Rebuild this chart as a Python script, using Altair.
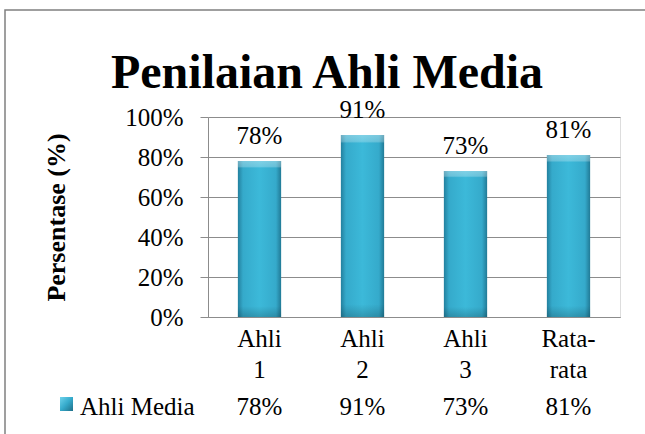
import altair as alt
import pandas as pd

categories = ["Ahli 1", "Ahli 2", "Ahli 3", "Rata-rata"]
values = [0.78, 0.91, 0.73, 0.81]
series_name = "Ahli Media"
title_text = "Penilaian Ahli Media"
y_title = "Persentase (%)"
y_ticks = [0, 0.2, 0.4, 0.6, 0.8, 1.0]

df = pd.DataFrame({"cat": categories, "val": values})

FONT = "Liberation Serif"
GRID = "#8c8c8c"

xscale = alt.Scale(domain=categories, paddingInner=0.58, paddingOuter=0.29)
yscale = alt.Scale(domain=[0, 1], nice=False)

x_axis = alt.Axis(
    title=None,
    labelAngle=0,
    ticks=False,
    grid=False,
    domain=True,
    domainColor=GRID,
    labelFontSize=25,
    labelFont=FONT,
    labelColor="black",
    labelBaseline="alphabetic",
    labelPadding=29,
    labelLineHeight=31,
    labelOverlap=False,
    labelExpr="datum.label == 'Rata-rata' ? ['Rata-', 'rata'] : split(datum.label, ' ')",
)

y_axis = alt.Axis(
    title=y_title,
    values=y_ticks,
    format=".0%",
    tickSize=8,
    tickColor=GRID,
    domainColor=GRID,
    gridColor=GRID,
    labelFontSize=25,
    labelFont=FONT,
    labelColor="black",
    labelPadding=17,
    labelOverlap=False,
    labelFlush=False,
    labelBound=False,
    titleFont=FONT,
    titleFontSize=26,
    titleFontWeight="bold",
    titleColor="black",
    titleX=-144,
    titleY=100,
    titleBaseline="alphabetic",
    titleAngle=270,
)

bar_grad = alt.Gradient(
    gradient="linear",
    x1=0, x2=1, y1=0, y2=0,
    stops=[
        alt.GradientStop(offset=0, color="#23809e"),
        alt.GradientStop(offset=0.12, color="#35aacb"),
        alt.GradientStop(offset=0.5, color="#3cb9d9"),
        alt.GradientStop(offset=0.88, color="#35aacb"),
        alt.GradientStop(offset=1, color="#217a96"),
    ],
)

bevel_grad = alt.Gradient(
    gradient="linear",
    x1=0, x2=0, y1=0, y2=1,
    stops=[
        alt.GradientStop(offset=0, color="rgba(255,255,255,0.35)"),
        alt.GradientStop(offset=0.035, color="rgba(255,255,255,0.25)"),
        alt.GradientStop(offset=0.045, color="rgba(255,255,255,0)"),
        alt.GradientStop(offset=0.93, color="rgba(0,0,0,0)"),
        alt.GradientStop(offset=1, color="rgba(0,0,0,0.18)"),
    ],
)

base = alt.Chart(df)

xenc = alt.X("cat:N", scale=xscale, sort=categories, axis=x_axis)
yenc = alt.Y("val:Q", scale=yscale, axis=y_axis)

bars = base.mark_bar(fill=bar_grad).encode(x=xenc, y=yenc)

bevel = base.mark_bar(fill=bevel_grad).encode(x=xenc, y=yenc)

bar_labels = base.mark_text(
    font=FONT, fontSize=25, baseline="alphabetic", dy=-17, color="black"
).encode(
    x=xenc,
    y=yenc,
    text=alt.Text("val:Q", format=".0%"),
)

table_vals = base.mark_text(
    font=FONT, fontSize=25, baseline="alphabetic", color="black"
).encode(
    x=xenc,
    y=alt.value(298),
    text=alt.Text("val:Q", format=".0%"),
)

meta = pd.DataFrame({"series": [series_name], "title": [title_text]})

series_label = alt.Chart(meta).mark_text(
    font=FONT, fontSize=25, baseline="alphabetic", align="left", color="black"
).encode(x=alt.value(-128), y=alt.value(298), text="series:N")

marker_grad = alt.Gradient(
    gradient="linear",
    x1=0, x2=1, y1=0, y2=1,
    stops=[
        alt.GradientStop(offset=0, color="#6fd3ec"),
        alt.GradientStop(offset=0.5, color="#35aacb"),
        alt.GradientStop(offset=1, color="#1f6f88"),
    ],
)
marker = alt.Chart(meta).mark_rect(fill=marker_grad).encode(
    x=alt.value(-148), x2=alt.value(-135), y=alt.value(280), y2=alt.value(294)
)

title = alt.Chart(meta).mark_text(
    font=FONT, fontSize=48, fontWeight="bold", baseline="alphabetic", align="center", color="black"
).encode(x=alt.value(119), y=alt.value(-29), text="title:N")

frame = alt.Chart(meta).mark_rect(
    fill="transparent", stroke="#808080", strokeWidth=1.5, clip=False
).encode(
    x=alt.value(-203), x2=alt.value(500), y=alt.value(-107), y2=alt.value(380)
)

chart = (
    alt.layer(frame, bars, bevel, bar_labels, table_vals, series_label, marker, title)
    .properties(
        width=412,
        height=200,
        autosize=alt.AutoSizeParams(type="none"),
        padding={"left": 208, "top": 117, "right": 25, "bottom": 117},
    )
    .configure_view(stroke="transparent", strokeWidth=0, strokeOpacity=0)
    .configure(font=FONT)
)

chart.save("out.html", embed_options={"renderer": "svg", "actions": False})
